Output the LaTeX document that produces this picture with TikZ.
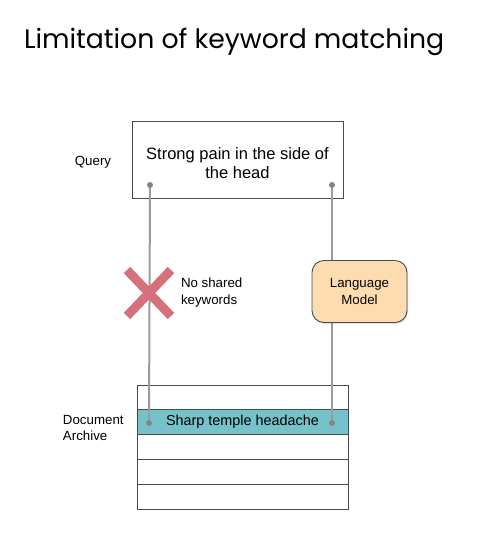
\documentclass[tikz,border=0pt]{standalone}
\usepackage{fontspec}
\setmainfont{Liberation Sans}
\newfontfamily\titlefont{Poppins}
\usetikzlibrary{positioning, shadows}

\definecolor{wire}{HTML}{9B9B9B}
\definecolor{pin}{HTML}{858585}
\definecolor{frame}{HTML}{4A4A4A}
\definecolor{lmfill}{HTML}{FDDCB0}
\definecolor{hitfill}{HTML}{76C2CB}
\definecolor{cross}{HTML}{D6707B}

\begin{document}
\begin{tikzpicture}[x=1pt, y=-1pt, every node/.style={inner sep=0pt, outer sep=0pt},
	box/.style={draw=frame, line width=0.9pt, fill=white, minimum width=211pt, align=center},
	row/.style={box, minimum height=24.8pt},
	label/.style={align=left, font=\fontsize{13.3}{17}\selectfont},
	link/.style={draw=wire, line width=2pt},
	dot/.style={circle, fill=pin, minimum size=6pt}]

	\useasboundingbox (0,0) rectangle (483,539);

	\node [anchor=base west, font=\titlefont\fontsize{26.7}{32}\selectfont] (T) at (24,48)
		{Limitation of keyword matching};

	% query and archive
	\node [box, minimum height=77pt, font=\fontsize{16.5}{19}\selectfont] (Q) at (237.5,159.5) {};
	\node [align=center, font=\fontsize{16.5}{19}\selectfont] (QT) at (237.5,163)
		{Strong pain in the side of\\the head};

	\node [row] (R1) at (242.5,397.4) {};
	\node [row, fill=hitfill, font=\fontsize{14.4}{17}\selectfont] (R2) [below=0pt of R1] {Sharp temple headache};
	\node [row] (R3) [below=0pt of R2] {};
	\node [row] (R4) [below=0pt of R3] {};
	\node [row] (R5) [below=0pt of R4] {};

	\node [label] (QL) at (93,162) {Query};
	\node [label, anchor=west, font=\fontsize{13.3}{15.5}\selectfont] (DL) at (63,428) {Document\\Archive};

	% wires
	\coordinate (QA) at (150,185);
	\coordinate (QB) at (332,185);
	\coordinate (DA) at (149,423);
	\coordinate (DB) at (332,423);
	\draw [link] (QA) -- (DA);
	\draw [link] (QB) -- (DB);
	\foreach \p in {QA, QB, DA, DB}
		\node [dot] at (\p) {};

	\node [draw=frame, line width=0.9pt, fill=lmfill, rounded corners=12pt, minimum width=95pt, minimum height=62pt,
		align=center, drop shadow={opacity=0.25, shadow xshift=1pt, shadow yshift=-1.5pt}, font=\fontsize{13.3}{17}\selectfont]
		(LM) at (359.5,291.5) {Language\\Model};

	% no match
	\draw [cross, line width=9pt] (127,270) -- (171,316) (171,270) -- (127,316);
	\node [label, anchor=west] (NS) at (181,293) {No shared\\keywords};

\end{tikzpicture}
\end{document}
